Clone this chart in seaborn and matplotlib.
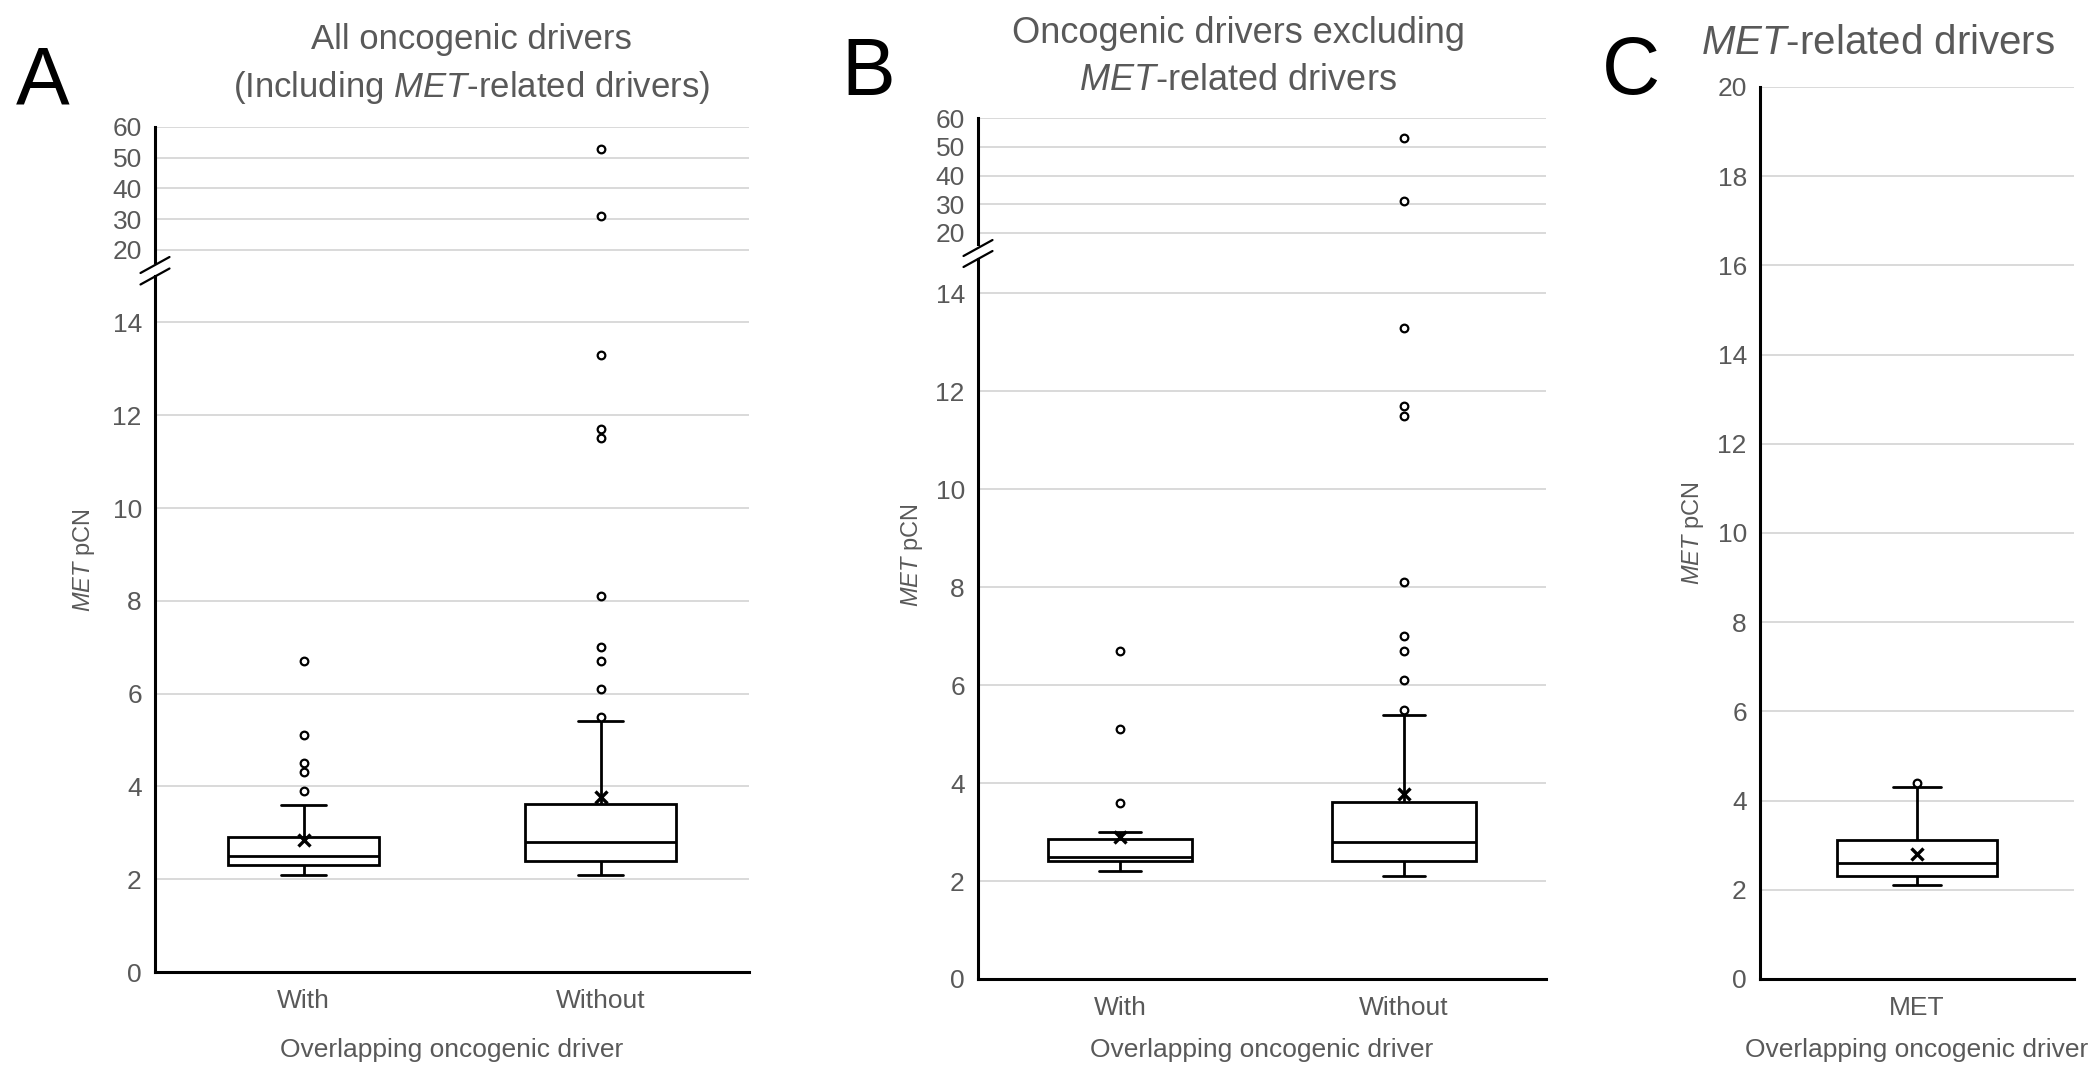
import numpy as np
import pandas as pd
import matplotlib
matplotlib.use("Agg")
import matplotlib.pyplot as plt
from matplotlib.lines import Line2D
import seaborn as sns

# ---- data ----
groups_ab = ["With", "Without"]
groups_c = ["MET"]

# A: all oncogenic drivers (incl. MET-related)
a_with = [2.1, 2.2, 2.2, 2.2, 2.3, 2.3, 2.3, 2.3, 2.3, 2.4, 2.4, 2.4, 2.5, 2.5,
          2.5, 2.5, 2.6, 2.6, 2.7, 2.8, 2.8, 2.9, 3.2, 3.6,
          3.9, 4.3, 4.5, 5.1, 6.7]
a_without = [2.1, 2.1, 2.2, 2.2, 2.2, 2.3, 2.3, 2.3, 2.3, 2.3, 2.4, 2.4, 2.4,
             2.4,
             2.4, 2.5, 2.5, 2.5, 2.6, 2.6, 2.6, 2.7, 2.7, 2.7, 2.7, 2.8,
             2.8,
             2.8, 2.9, 2.9, 3.0, 3.0, 3.1, 3.2, 3.2, 3.3, 3.4, 3.5, 3.6,
             3.62,
             3.8, 4.1, 5.4, 5.5, 6.1, 6.7, 7.0, 8.1, 11.5, 11.7, 13.3, 31, 53]

# B: oncogenic drivers excluding MET-related
b_with = [2.2, 2.3, 2.3, 2.4, 2.4, 2.4, 2.4, 2.4, 2.5, 2.5, 2.5, 2.5, 2.6,
          2.7, 2.8, 2.85, 2.9, 3.0, 3.6, 5.1, 6.7]
b_without = list(a_without)

# C: MET-related drivers
c_met = [2.1, 2.2, 2.3, 2.3, 2.4, 2.5, 2.6, 2.8, 3.0, 3.12, 3.6, 4.3, 4.4]

# means (x markers)
means_a = [2.84, 3.78]
means_b = [2.89, 3.78]
means_c = [2.81]

lower_ticks = [0, 2, 4, 6, 8, 10, 12, 14]
upper_ticks = [20, 30, 40, 50, 60]
ticks_c = [0, 2, 4, 6, 8, 10, 12, 14, 16, 18, 20]

GRAY = "#595959"
GRID = "#d9d9d9"
W, H = 2100, 1076

sns.set_style("white")
plt.rcParams["font.family"] = ["Liberation Sans", "DejaVu Sans"]
plt.rcParams["mathtext.fontset"] = "custom"
plt.rcParams["mathtext.rm"] = "Liberation Sans"
plt.rcParams["mathtext.it"] = "Liberation Sans:italic"


def rect(left, top, right, bottom):
    # pixel box -> figure fraction
    return [left / W, 1 - bottom / H, (right - left) / W, (bottom - top) / H]


def to_frame(groups, samples):
    return pd.DataFrame({
        "group": [g for g, vals in zip(groups, samples) for _ in vals],
        "pcn": [v for vals in samples for v in vals],
    })


def draw_boxes(ax, df, groups):
    sns.boxplot(data=df, x="group", y="pcn", order=groups, ax=ax,
                width=0.51, color="white", linecolor="black", linewidth=2.0,
                saturation=1, whis=1.5, fliersize=5.5, capwidths=0.15,
                flierprops=dict(marker="o", markerfacecolor="white",
                                markeredgecolor="black", markeredgewidth=1.6))
    ax.set(xlabel="", ylabel="")


def draw_means(ax, groups, means):
    sns.pointplot(x=groups, y=means, order=groups, ax=ax, color="black",
                  marker="x", linestyle="none", markersize=9,
                  markeredgewidth=2.4, errorbar=None, zorder=5)
    ax.set(xlabel="", ylabel="")


def style(ax, ticks, ylim, n, bottom=True):
    ax.set_ylim(*ylim)
    ax.set_xlim(-0.5, n - 0.5)
    ax.set_yticks(ticks)
    ax.yaxis.grid(True, color=GRID, linewidth=1.4)
    ax.xaxis.grid(False)
    ax.set_axisbelow(True)
    for s in ["top", "right"]:
        ax.spines[s].set_visible(False)
    ax.spines["left"].set_color("black")
    ax.spines["left"].set_linewidth(2.2)
    ax.spines["bottom"].set_color("black")
    ax.spines["bottom"].set_linewidth(2.2)
    ax.spines["bottom"].set_visible(bottom)
    ax.tick_params(axis="y", length=0, pad=9.5, labelsize=19, labelcolor=GRAY)
    ax.tick_params(axis="x", length=0, pad=12.5, labelsize=19, labelcolor=GRAY,
                   labelbottom=bottom)


def break_marks(fig, x, y1, y2):
    for y in (y1, y2):
        fig.add_artist(Line2D([(x - 14.5) / W, (x + 14.5) / W],
                              [1 - (y + 8) / H, 1 - (y - 8) / H],
                              color="black", linewidth=1.6))


fig = plt.figure(figsize=(21, 10.76), dpi=100)

# ---- panel A ----
df_a = to_frame(groups_ab, [a_with, a_without])
ax_a_up = fig.add_axes(rect(155, 127, 749, 262.3))
draw_boxes(ax_a_up, df_a, groups_ab)
style(ax_a_up, upper_ticks, (16, 60), 2, bottom=False)
ax_a = fig.add_axes(rect(155, 276, 749, 972))
draw_boxes(ax_a, df_a, groups_ab)
draw_means(ax_a, groups_ab, means_a)
style(ax_a, lower_ticks, (0, 15), 2)
break_marks(fig, 155, 265, 276.5)

# ---- panel B ----
df_b = to_frame(groups_ab, [b_with, b_without])
ax_b_up = fig.add_axes(rect(978, 118, 1546, 244.5))
draw_boxes(ax_b_up, df_b, groups_ab)
style(ax_b_up, upper_ticks, (16, 60), 2, bottom=False)
ax_b = fig.add_axes(rect(978, 259, 1546, 979))
draw_boxes(ax_b, df_b, groups_ab)
draw_means(ax_b, groups_ab, means_b)
style(ax_b, lower_ticks, (0, 14.7), 2)
break_marks(fig, 978, 248, 259)

# ---- panel C ----
df_c = to_frame(groups_c, [c_met])
ax_c = fig.add_axes(rect(1760, 87, 2074, 979))
draw_boxes(ax_c, df_c, groups_c)
draw_means(ax_c, groups_c, means_c)
style(ax_c, ticks_c, (0, 20), 1)

# ---- text ----
def ftext(x, y, s, **kw):
    fig.text(x / W, 1 - y / H, s, **kw)

for letter, x, y in [("A", 43, 104), ("B", 868, 95), ("C", 1631, 94)]:
    ftext(x, y, letter, fontsize=58, color="black", ha="center", va="baseline")

ftext(471, 49, "All oncogenic drivers",
      fontsize=25, color=GRAY, ha="center", va="baseline")
ftext(471, 97, r"(Including $\mathit{MET}$-related drivers)",
      fontsize=25, color=GRAY, ha="center", va="baseline")
ftext(1238, 43, "Oncogenic drivers excluding",
      fontsize=26, color=GRAY, ha="center", va="baseline")
ftext(1238, 90, r"$\mathit{MET}$-related drivers",
      fontsize=26, color=GRAY, ha="center", va="baseline")
ftext(1878, 54, r"$\mathit{MET}$-related drivers",
      fontsize=29, color=GRAY, ha="center", va="baseline")

ylab_kw = dict(fontsize=17, color=GRAY, ha="center", va="center", rotation=90)
ftext(84, 560, r"$\mathit{MET}$ pCN", **ylab_kw)
ftext(912, 555, r"$\mathit{MET}$ pCN", **ylab_kw)
ftext(1693, 533, r"$\mathit{MET}$ pCN", **ylab_kw)

xlab_kw = dict(fontsize=19, color=GRAY, ha="center", va="baseline")
ftext(452, 1057, "Overlapping oncogenic driver", **xlab_kw)
ftext(1262, 1057, "Overlapping oncogenic driver", **xlab_kw)
ftext(1917, 1057, "Overlapping oncogenic driver", **xlab_kw)

fig.savefig("out.png", dpi=100, facecolor="white")
